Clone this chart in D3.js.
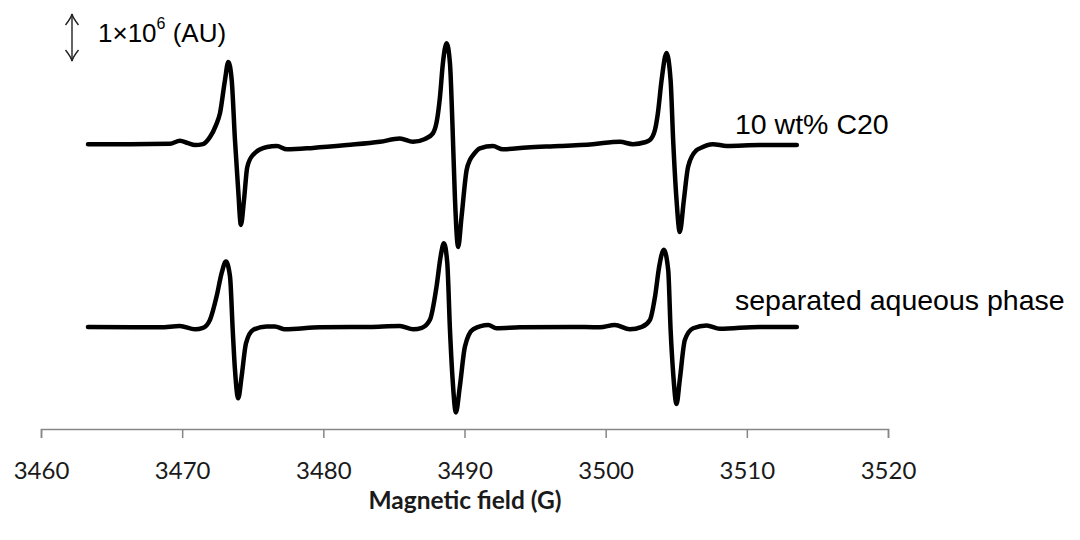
<!DOCTYPE html>
<html>
<head>
<meta charset="utf-8">
<script src="https://cdn.jsdelivr.net/npm/d3@7"></script>
<style>
  body { margin: 0; background: #fff; }
</style>
</head>
<body>
<div id="hook"></div>
<script>
// magnetic field (G) and signal (10^6 AU)
var fieldTop = [3463.33, 3466.30, 3469.14, 3469.84, 3470.41, 3470.91, 3471.47, 3471.97, 3472.39, 3472.68,
    3473.03, 3473.27, 3473.51, 3473.74, 3473.97, 3474.16, 3474.38, 3474.61, 3475.01, 3476.01,
    3476.71, 3477.42, 3479.26, 3481.67, 3484.01, 3485.42, 3486.35, 3487.20, 3487.76, 3488.05,
    3488.26, 3488.47, 3488.73, 3488.97, 3489.16, 3489.32, 3489.55, 3489.79, 3490.15, 3490.38,
    3490.62, 3491.09, 3492.01, 3492.72, 3494.42, 3496.76, 3499.09, 3501.01, 3501.93, 3502.78,
    3503.14, 3503.49, 3503.70, 3503.96, 3504.31, 3504.60, 3504.78, 3505.02, 3505.25, 3505.54,
    3505.84, 3506.44, 3506.67, 3507.59, 3508.58, 3510.92, 3513.54];
var valueTop = [0.00, 0.00, 0.01, 0.07, 0.02, -0.02, 0.00, 0.15, 0.40, 0.66,
    1.36, 1.75, 1.36, 0.09, -0.98, -1.72, -1.19, -0.49, -0.23, -0.06,
    -0.04, -0.11, -0.08, -0.02, 0.05, 0.12, 0.05, 0.11, 0.23, 0.51,
    1.00, 1.72, 2.15, 1.72, 0.30, -1.13, -2.19, -1.55, -0.55, -0.34,
    -0.23, -0.09, -0.04, -0.11, -0.07, -0.04, 0.00, 0.05, 0.00, 0.04,
    0.09, 0.30, 0.66, 1.36, 1.94, 1.36, 0.09, -1.19, -1.87, -1.19,
    -0.48, -0.13, -0.09, 0.00, -0.04, -0.02, -0.02];

var fieldBottom = [3463.33, 3467.01, 3468.43, 3469.84, 3470.91, 3471.47, 3471.97, 3472.44, 3472.80, 3473.10,
    3473.39, 3473.58, 3473.74, 3473.97, 3474.21, 3474.52, 3475.04, 3475.98, 3476.57, 3477.28,
    3479.76, 3483.30, 3485.42, 3486.37, 3486.98, 3487.55, 3488.02, 3488.31, 3488.54, 3488.78,
    3488.97, 3489.16, 3489.39, 3489.67, 3490.03, 3490.62, 3491.68, 3492.27, 3493.92, 3497.46,
    3499.59, 3500.65, 3501.71, 3502.56, 3503.14, 3503.50, 3503.79, 3504.12, 3504.43, 3504.60,
    3504.78, 3505.02, 3505.25, 3505.61, 3506.20, 3507.15, 3508.09, 3510.92, 3513.54];
var valueBottom = [0.00, -0.01, -0.01, 0.02, -0.05, -0.02, 0.15, 0.65, 1.15, 1.39,
    1.07, -0.06, -0.91, -1.52, -1.06, -0.35, -0.06, 0.01, 0.01, -0.05,
    -0.01, 0.00, 0.02, -0.05, -0.02, 0.15, 0.86, 1.50, 1.78, 1.36,
    -0.06, -1.13, -1.82, -1.27, -0.42, -0.05, 0.04, -0.03, -0.01, 0.00,
    -0.01, 0.04, -0.05, 0.00, 0.15, 0.65, 1.28, 1.64, 1.21, -0.06,
    -0.98, -1.64, -1.13, -0.28, -0.03, 0.03, -0.04, 0.00, 0.00];

var seriesNames = ["10 wt% C20", "separated aqueous phase"];
var seriesOffsets = [0, -3.89];
var xTicks = [3460, 3470, 3480, 3490, 3500, 3510, 3520];
var xTitle = "Magnetic field (G)";

var w = 1080;
var h = 540;

var svg = d3.select("#hook")
    .append("svg")
    .attr("width", w)
    .attr("height", h);

var x = d3.scaleLinear().domain([3460, 3520]).range([41, 888]);
var y = d3.scaleLinear().domain([-6, 2.6]).range([426, 22]);

var series = [
    { name: seriesNames[0], offset: seriesOffsets[0], pts: fieldTop.map(function (f, i) { return [f, valueTop[i]]; }) },
    { name: seriesNames[1], offset: seriesOffsets[1], pts: fieldBottom.map(function (f, i) { return [f, valueBottom[i]]; }) }
];

var line = d3.line()
    .x(function (d) { return x(d[0]); })
    .curve(d3.curveMonotoneX);

series.forEach(function (s) {
    line.y(function (d) { return y(d[1] + s.offset); });
    svg.append("path")
        .attr("d", line(s.pts))
        .attr("fill", "none")
        .attr("stroke", "#000")
        .attr("stroke-width", 4.5)
        .attr("stroke-linejoin", "round")
        .attr("stroke-linecap", "round");
});

// series labels next to the right ends
svg.append("text")
    .attr("x", 735).attr("y", 134)
    .style("font-family", "'Liberation Sans', Arial, sans-serif")
    .style("font-size", "28.5px")
    .text(seriesNames[0]);
svg.append("text")
    .attr("x", 735).attr("y", 310)
    .style("font-family", "'Liberation Sans', Arial, sans-serif")
    .style("font-size", "28.5px")
    .text(seriesNames[1]);

// x axis
var xAxis = d3.axisBottom(x).tickValues(xTicks).tickSize(9).tickPadding(24).tickFormat(d3.format("d"));
var gx = svg.append("g")
    .attr("transform", "translate(0,429)")
    .call(xAxis);
gx.select(".domain").attr("stroke", "#868686").attr("stroke-width", 1.5);
gx.selectAll(".tick line").attr("stroke", "#868686").attr("stroke-width", 1.5);
gx.selectAll(".tick text")
    .attr("fill", "#1a1a1a")
    .style("font-family", "Lato, 'Open Sans', sans-serif")
    .style("font-size", "24px");

svg.append("text")
    .attr("x", 465).attr("y", 509)
    .attr("text-anchor", "middle")
    .attr("fill", "#1a1a1a")
    .style("font-family", "Lato, 'Open Sans', sans-serif")
    .style("font-size", "24.5px")
    .style("font-weight", "bold")
    .text(xTitle);

// scale bar: 1 unit = 1x10^6 AU
var barX = 72;
var barTop = y(2.77);
var barBot = y(1.77);
svg.append("line")
    .attr("x1", barX).attr("x2", barX)
    .attr("y1", barTop).attr("y2", barBot)
    .attr("stroke", "#222").attr("stroke-width", 1.4);
svg.append("path")
    .attr("d", "M" + (barX - 6.5) + "," + (barTop + 11) + "Q" + (barX - 1) + "," + (barTop + 4) + " " + barX + "," + barTop
        + "Q" + (barX + 1) + "," + (barTop + 4) + " " + (barX + 6.5) + "," + (barTop + 11)
        + "M" + (barX - 6.5) + "," + (barBot - 11) + "Q" + (barX - 1) + "," + (barBot - 4) + " " + barX + "," + barBot
        + "Q" + (barX + 1) + "," + (barBot - 4) + " " + (barX + 6.5) + "," + (barBot - 11))
    .attr("fill", "none")
    .attr("stroke", "#222").attr("stroke-width", 1.4);

var lab = svg.append("text")
    .attr("x", 98).attr("y", 42)
    .style("font-family", "'Liberation Sans', Arial, sans-serif")
    .style("font-size", "26px");
lab.append("tspan").text("1×10");
lab.append("tspan").attr("dy", -13).style("font-size", "16px").text("6");
lab.append("tspan").attr("dy", 13).text(" (AU)");
</script>
</body>
</html>
